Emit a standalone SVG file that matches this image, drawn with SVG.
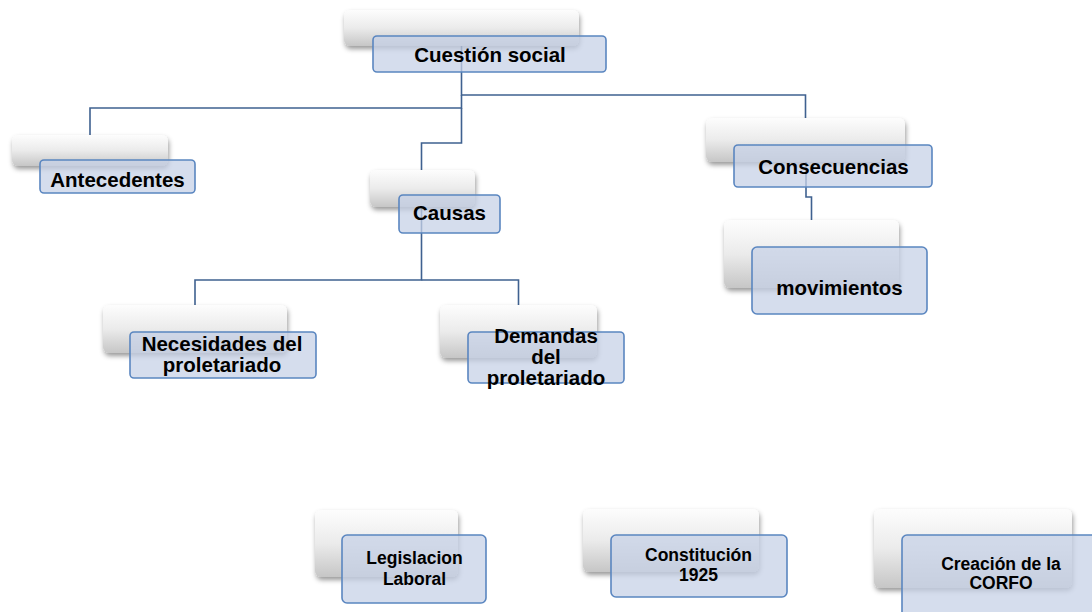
<svg xmlns="http://www.w3.org/2000/svg" width="1092" height="612" viewBox="0 0 1092 612">
<defs>
<linearGradient id="gg" x1="0" y1="0" x2="0" y2="1">
<stop offset="0" stop-color="#fdfdfd"/>
<stop offset="0.5" stop-color="#ebebeb"/>
<stop offset="1" stop-color="#c6c6c6"/>
</linearGradient>
<filter id="sh" x="-10%" y="-20%" width="125%" height="150%">
<feDropShadow dx="1" dy="3" stdDeviation="2.5" flood-color="#000" flood-opacity="0.4"/>
</filter>
</defs>
<style>
.back{fill:url(#gg);filter:url(#sh);}
.front{fill:#c7d2e7;fill-opacity:0.75;stroke:#5a86c0;stroke-width:1.6;}
.lbl{font-family:"Liberation Sans",Arial,sans-serif;font-weight:bold;font-size:20.5px;fill:#000;text-anchor:middle;}
.sm{font-size:17.5px;}
.conn{fill:none;stroke:#3f6190;stroke-width:1.6;}
</style>
<rect width="1092" height="612" fill="#ffffff"/>
<g id="connectors">
<path class="conn" d="M461.5,46 V95 H805.5 V118"/>
<path class="conn" d="M461.5,95 V108 H90 V135"/>
<path class="conn" d="M461.5,108 V143 H421.5 V170"/>
<path class="conn" d="M421.5,207 V280 H195 V305"/>
<path class="conn" d="M421.5,280 H518.5 V305"/>
<path class="conn" d="M806,162 V197 H811.5 V220"/>
</g>
<g id="cuestion">
<rect class="back" x="344" y="10" width="235" height="36" rx="6"/>
<rect class="front" x="373" y="36" width="233" height="36" rx="4"/>
<text class="lbl" x="490" y="62">Cuestión social</text>
</g>
<g id="antecedentes">
<rect class="back" x="12" y="135" width="156" height="31" rx="6"/>
<rect class="front" x="40" y="160" width="155" height="33" rx="4"/>
<text class="lbl" x="117.5" y="187">Antecedentes</text>
</g>
<g id="causas">
<rect class="back" x="370" y="170" width="105" height="37" rx="6"/>
<rect class="front" x="399" y="195" width="101" height="38" rx="4"/>
<text class="lbl" x="449.5" y="220">Causas</text>
</g>
<g id="consecuencias">
<rect class="back" x="706" y="118" width="199" height="44" rx="6"/>
<rect class="front" x="734" y="145" width="198" height="42" rx="4"/>
<text class="lbl" x="833.5" y="174">Consecuencias</text>
</g>
<g id="movimientos">
<rect class="back" x="724" y="220" width="175" height="68" rx="6"/>
<rect class="front" x="752" y="247" width="175" height="67" rx="5"/>
<text class="lbl" x="839.5" y="295">movimientos</text>
</g>
<g id="necesidades">
<rect class="back" x="103" y="305" width="184" height="48" rx="6"/>
<rect class="front" x="130" y="332" width="186" height="46" rx="4"/>
<text class="lbl" x="222" y="351">Necesidades del</text>
<text class="lbl" x="222" y="372">proletariado</text>
</g>
<g id="demandas">
<rect class="back" x="440" y="305" width="157" height="53" rx="6"/>
<rect class="front" x="468" y="332" width="156" height="51" rx="4"/>
<text class="lbl" x="546" y="343">Demandas</text>
<text class="lbl" x="546" y="364">del</text>
<text class="lbl" x="546" y="385">proletariado</text>
</g>
<g id="legislacion">
<rect class="back" x="315" y="510" width="143" height="67" rx="6"/>
<rect class="front" x="342" y="535" width="144" height="68" rx="5"/>
<text class="lbl sm" x="414.5" y="564">Legislacion</text>
<text class="lbl sm" x="414.5" y="585">Laboral</text>
</g>
<g id="constitucion">
<rect class="back" x="583" y="509" width="176" height="63" rx="6"/>
<rect class="front" x="611" y="535" width="176" height="62" rx="5"/>
<text class="lbl sm" x="698.5" y="561">Constitución</text>
<text class="lbl sm" x="698.5" y="581">1925</text>
</g>
<g id="creacion">
<rect class="back" x="874" y="509" width="198" height="79" rx="6"/>
<rect class="front" x="902" y="535" width="200" height="90" rx="5"/>
<text class="lbl sm" x="1001" y="570">Creación de la</text>
<text class="lbl sm" x="1001" y="589">CORFO</text>
</g>
</svg>
